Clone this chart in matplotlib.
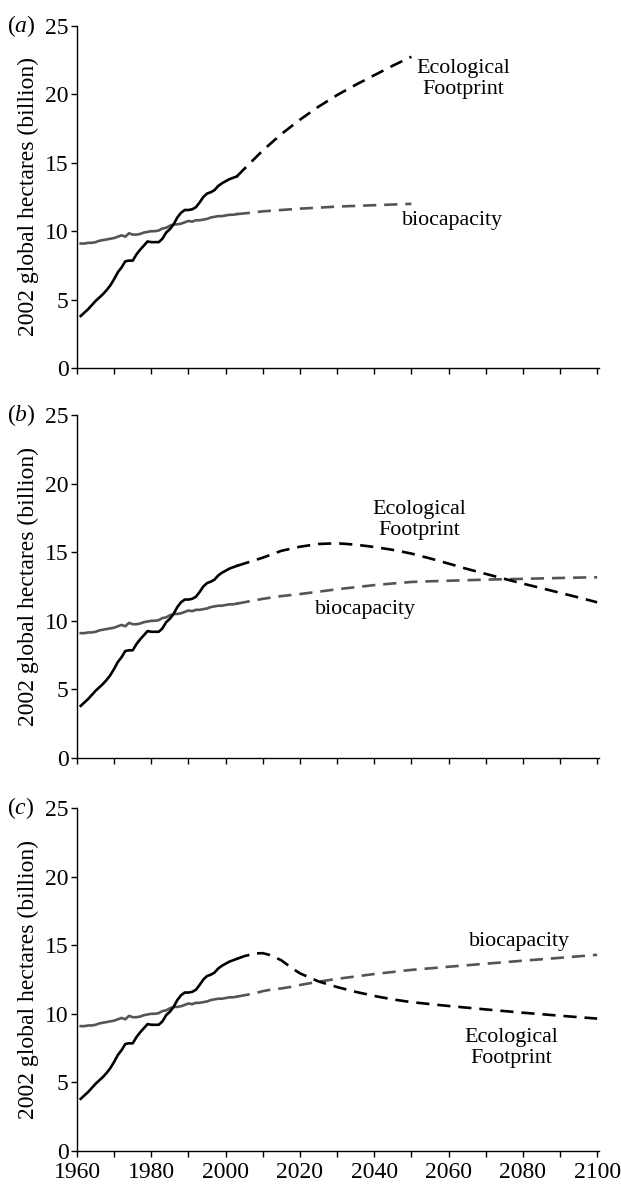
import numpy as np
import matplotlib.pyplot as plt

plt.rcParams['font.family'] = ['Liberation Serif', 'DejaVu Serif']
plt.rcParams['mathtext.fontset'] = 'custom'
plt.rcParams['mathtext.rm'] = 'Liberation Serif'
plt.rcParams['mathtext.it'] = 'Liberation Serif:italic'

# historic data 1961-2003 (billion global hectares)
hist_years = list(range(1961, 2004))
footprint_hist = [3.8, 4.05, 4.3, 4.6, 4.9, 5.15, 5.4, 5.7, 6.05, 6.5,
                  7.0, 7.35, 7.8, 7.85, 7.85, 8.3, 8.65, 8.95, 9.25, 9.2,
                  9.2, 9.2, 9.45, 9.9, 10.15, 10.5, 11.0, 11.35, 11.55, 11.55,
                  11.6, 11.75, 12.1, 12.5, 12.75, 12.85, 13.0, 13.3, 13.5, 13.65,
                  13.8, 13.9, 14.0]
biocap_hist = [9.1, 9.1, 9.15, 9.15, 9.2, 9.3, 9.35, 9.4, 9.45, 9.5,
               9.6, 9.7, 9.6, 9.85, 9.75, 9.75, 9.8, 9.9, 9.95, 10.0,
               10.0, 10.05, 10.2, 10.25, 10.4, 10.5, 10.5, 10.55, 10.65, 10.75,
               10.7, 10.8, 10.8, 10.85, 10.9, 11.0, 11.05, 11.1, 11.1, 11.15,
               11.2, 11.2, 11.25]

# (a) business as usual, to 2050
a_years = [2003, 2005, 2010, 2015, 2020, 2025, 2030, 2035, 2040, 2045, 2050]
a_footprint = [14.0, 14.55, 15.9, 17.1, 18.15, 19.1, 19.95, 20.7, 21.4, 22.1, 22.75]
a_biocap = [11.25, 11.3, 11.45, 11.55, 11.65, 11.72, 11.8, 11.85, 11.9, 11.95, 12.0]

# (b) slow shift
b_years = [2003, 2010, 2015, 2020, 2025, 2030, 2035, 2040, 2045, 2050, 2055,
           2060, 2065, 2070, 2075, 2080, 2085, 2090, 2095, 2100]
b_footprint = [14.0, 14.6, 15.1, 15.4, 15.6, 15.65, 15.55, 15.38, 15.17, 14.9, 14.55,
               14.17, 13.78, 13.42, 13.06, 12.71, 12.38, 12.04, 11.7, 11.35]
b_biocap = [11.25, 11.6, 11.8, 11.95, 12.12, 12.3, 12.45, 12.6, 12.72, 12.83, 12.88,
            12.92, 12.96, 13.0, 13.03, 13.06, 13.09, 13.12, 13.15, 13.17]

# (c) rapid reduction
c_years = [2003, 2005, 2008, 2010, 2012, 2015, 2018, 2020, 2025, 2030, 2035,
           2040, 2045, 2050, 2060, 2070, 2080, 2090, 2100]
c_footprint = [14.0, 14.2, 14.4, 14.42, 14.28, 13.9, 13.3, 12.95, 12.36, 11.95, 11.6,
               11.3, 11.05, 10.85, 10.57, 10.32, 10.08, 9.86, 9.65]
c_biocap = [11.25, 11.35, 11.5, 11.65, 11.75, 11.85, 11.98, 12.1, 12.34, 12.55, 12.72,
            12.9, 13.05, 13.2, 13.43, 13.65, 13.87, 14.08, 14.3]

panels = [
    ('a', a_years, a_footprint, a_biocap,
     (2064, 21.15, 'Ecological\nFootprint'), (2061, 10.8, 'biocapacity')),
    ('b', b_years, b_footprint, b_biocap,
     (2052, 17.35, 'Ecological\nFootprint'), (2037.6, 10.8, 'biocapacity')),
    ('c', c_years, c_footprint, c_biocap,
     (2077, 7.5, 'Ecological\nFootprint'), (2079, 15.25, 'biocapacity')),
]

W, H = 621, 1185
fig = plt.figure(figsize=(W / 100, H / 100), dpi=100)
tops = [26, 415, 808]
bottoms = [368, 758, 1151]
x0, x1 = 77, 599

black = 'black'
grey = '#555555'

for i, (tag, yrs, fp, bc, fp_lab, bc_lab) in enumerate(panels):
    ax = fig.add_axes([x0 / W, 1 - bottoms[i] / H, (x1 - x0) / W,
                       (bottoms[i] - tops[i]) / H])
    ax.plot(hist_years, biocap_hist, color=grey, lw=1.9)
    ax.plot(yrs, bc, color=grey, lw=1.9, dashes=(5, 3))
    ax.plot(hist_years, footprint_hist, color=black, lw=1.9)
    ax.plot(yrs, fp, color=black, lw=1.9, dashes=(5, 3))

    ax.text(fp_lab[0], fp_lab[1], fp_lab[2], ha='center', va='center',
            fontsize=15.8, linespacing=1.15)
    ax.text(bc_lab[0], bc_lab[1], bc_lab[2], ha='center', va='center',
            fontsize=15.8)

    ax.set_xlim(1960, 2100.5)
    ax.set_ylim(0, 25)
    ax.set_yticks([0, 5, 10, 15, 20, 25])
    ax.set_xticks(np.arange(1960, 2101, 10))
    if i == 2:
        ax.set_xticklabels([str(y) if y % 20 == 0 else '' for y in range(1960, 2101, 10)])
    else:
        ax.set_xticklabels([])
    ax.tick_params(direction='out', length=4, width=1, labelsize=17, pad=2)
    ax.tick_params(axis='x', pad=4)
    for s in ['top', 'right']:
        ax.spines[s].set_visible(False)
    for s in ['left', 'bottom']:
        ax.spines[s].set_linewidth(1)
    ax.set_ylabel('2002 global hectares (billion)', fontsize=17, labelpad=4)
    fig.text(7 / W, 1 - tops[i] / H, r'($\mathit{%s}$)' % tag, fontsize=17,
             ha='left', va='center')

fig.savefig('out.png', dpi=100)
